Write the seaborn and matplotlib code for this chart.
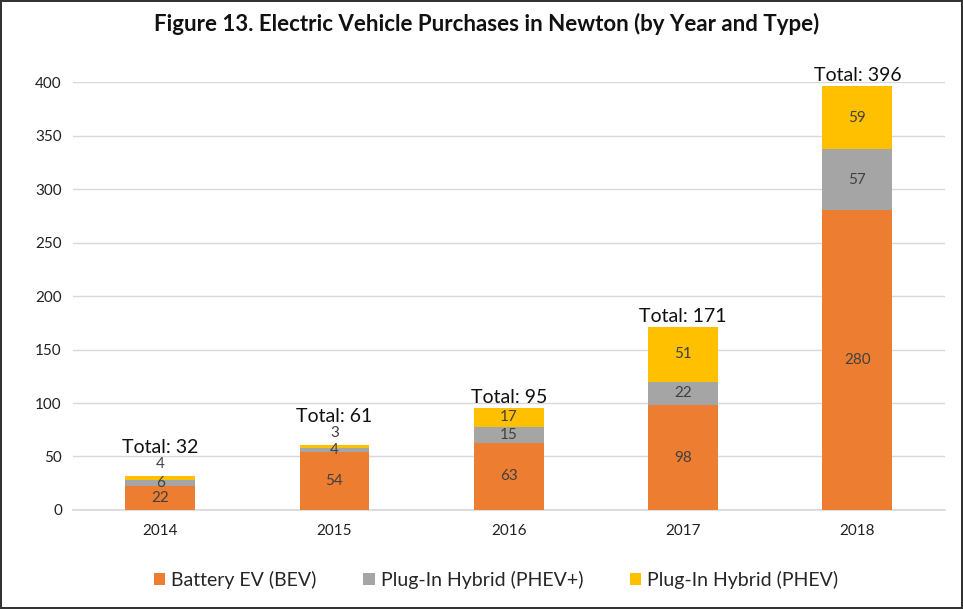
import numpy as np
import pandas as pd
import matplotlib
matplotlib.use("Agg")
import matplotlib.pyplot as plt
from matplotlib.patches import Patch
import seaborn as sns

# Data
years = ["2014", "2015", "2016", "2017", "2018"]
bev = [22, 54, 63, 98, 280]
phev_plus = [6, 4, 15, 22, 57]
phev = [4, 3, 17, 51, 59]
series_names = ["Battery EV (BEV)", "Plug-In Hybrid (PHEV+)", "Plug-In Hybrid (PHEV)"]
colors = ["#ED7D31", "#A5A5A5", "#FFC000"]

sns.set_theme(style="white")
plt.rcParams["font.family"] = ["Lato", "DejaVu Sans"]

df = pd.DataFrame({"year": years, "bev": bev, "phev_plus": phev_plus, "phev": phev})
df["c1"] = df["bev"]
df["c2"] = df["bev"] + df["phev_plus"]
df["c3"] = df["c2"] + df["phev"]

fig = plt.figure(figsize=(9.63, 6.09), dpi=100)
fig.patch.set_edgecolor("#333333")
fig.patch.set_linewidth(1.5)
ax = fig.add_axes([0.0758, 0.1626, 0.905, 0.7026])

# stacked bars: draw cumulative totals from the top layer down
for col, c in zip(["c3", "c2", "c1"], colors[::-1]):
    sns.barplot(data=df, x="year", y=col, color=c, width=0.4, ax=ax,
                saturation=1, zorder=3, edgecolor="none", linewidth=0)

ax.set_ylim(0, 400)
ax.set_xlim(-0.5, 4.5)
ax.set_yticks(np.arange(0, 401, 50))
ax.yaxis.grid(True, color="#D9D9D9", linewidth=1, zorder=0)
ax.set_axisbelow(True)
for s in ["top", "right", "left"]:
    ax.spines[s].set_visible(False)
ax.spines["bottom"].set_color("#D9D9D9")
ax.spines["bottom"].set_zorder(1)
ax.set_xlabel("")
ax.set_ylabel("")
ax.tick_params(axis="both", length=0, labelsize=11, colors="#222222", pad=10)
ax.tick_params(axis="y", pad=8)

px = 0.72  # points per pixel at dpi 100
for i in range(len(years)):
    segs = [(0, bev[i]), (bev[i], phev_plus[i]), (bev[i] + phev_plus[i], phev[i])]
    top_small = phev[i] < 5
    for k, (base, h) in enumerate(segs):
        if k == 2 and top_small:
            ax.annotate(str(h), (i, base + h), xytext=(0, 12 * px), textcoords="offset points",
                        ha="center", va="center", fontsize=11, color="#404040")
        else:
            ax.annotate(str(h), (i, base + h / 2), ha="center", va="center",
                        fontsize=11, color="#404040")
    total = bev[i] + phev_plus[i] + phev[i]
    off = 20 if top_small else 2
    ax.annotate(f"Total: {total}", (i, total), xytext=(0, off * px), textcoords="offset points",
                ha="center", va="bottom", fontsize=14, color="#111111")

fig.suptitle("Figure 13. Electric Vehicle Purchases in Newton (by Year and Type)",
             x=0.505, y=0.978, fontsize=16, fontweight="bold", color="#111111")

handles = [Patch(facecolor=c, edgecolor="none") for c in colors]
fig.legend(handles, series_names, loc="center", bbox_to_anchor=(0.515, 0.048), ncol=3,
           frameon=False, fontsize=14, handlelength=0.6, handleheight=0.6,
           handletextpad=0.3, columnspacing=2.4)

fig.savefig("out.png", dpi=100, edgecolor=fig.get_edgecolor())
